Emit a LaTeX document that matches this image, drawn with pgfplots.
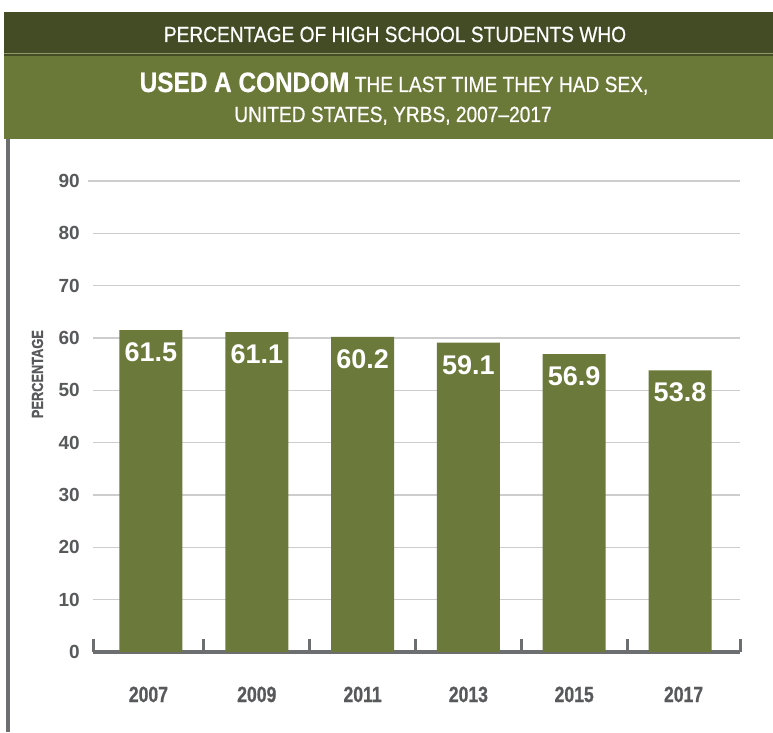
\documentclass[border=0pt]{standalone}
\usepackage{fontspec}
\setmainfont{Liberation Sans}
\newfontfamily\titlefont{Liberation Sans}[FakeStretch=0.87, FakeBold=0.6]
\newfontfamily\condfont{Liberation Sans}[FakeStretch=0.8, FakeBold=0.8]
\usepackage{pgfplots}
\pgfplotsset{compat=1.18}

\definecolor{darkolive}{HTML}{434C25}
\definecolor{olive}{HTML}{6A7838}
\definecolor{barolive}{HTML}{6B7A3A}
\definecolor{lineolive}{HTML}{8D9A63}
\definecolor{sidegrey}{HTML}{6D6E70}
\definecolor{axisgrey}{HTML}{6D6E70}
\definecolor{labelgrey}{HTML}{58595B}
\definecolor{gridgrey}{HTML}{CDCDCD}

\begin{document}
\begin{tikzpicture}[x=1pt,y=1pt]
\path[use as bounding box] (0,0) rectangle (773,732);
\fill[white] (0,0) rectangle (773,732);
% header bands
\fill[darkolive] (4,720) rectangle (773,676);
\fill[lineolive] (4,679) rectangle (773,677.6);
\fill[olive] (4,676) rectangle (773,593);
% grey bar down the left side
\fill[sidegrey] (6,0) rectangle (10,593);

\node[anchor=base, text=white, inner sep=0pt, font=\titlefont\fontsize{22}{26}\selectfont]
  at (395,690) {PERCENTAGE OF HIGH SCHOOL STUDENTS WHO};
\node[anchor=base, text=white, inner sep=0pt, font=\titlefont\fontsize{22}{26}\selectfont]
  at (394,640) {{\bfseries\fontsize{28}{30}\selectfont USED A CONDOM} THE LAST TIME THEY HAD SEX,};
\node[anchor=base, text=white, inner sep=0pt, font=\titlefont\fontsize{22}{26}\selectfont]
  at (393,610) {UNITED STATES, YRBS, 2007–2017};

\begin{axis}[
    scale only axis,
    width=647pt, height=471pt,
    at={(93pt,80pt)}, anchor=south west,
    xmin=-0.548, xmax=5.567,
    ymin=0, ymax=90,
    axis x line*=bottom, axis y line*=left,
    x axis line style={draw=axisgrey, line width=4pt, -},
    y axis line style={draw=none},
    xtick={-0.548,0.5,1.5,2.5,3.5,4.5,5.567},
    x tick label as interval,
    xticklabels={2007,2009,2011,2013,2015,2017},
    xtick style={draw=axisgrey, line width=3pt},
    major tick length=13pt,
    tick align=inside,
    ytick={0,10,...,90},
    ytick style={draw=none},
    ymajorgrids,
    grid style={draw=gridgrey, line width=1.3pt, shorten <=-5pt},
    /pgf/number format/assume math mode=true,
    xticklabel style={font=\condfont\bfseries\fontsize{22}{22}\selectfont, text=labelgrey,
        anchor=base, inner sep=0pt, yshift=-50pt},
    yticklabel style={font=\bfseries\fontsize{19}{19}\selectfont, text=labelgrey,
        anchor=east, inner sep=0pt, xshift=-13pt},
    ylabel={PERCENTAGE},
    ylabel style={at={(axis description cs:-0.0858,0.590)}, anchor=center,
        font=\condfont\bfseries\fontsize{16}{16}\selectfont, text=labelgrey},
    nodes near coords,
    point meta=explicit symbolic,
    every node near coord/.append style={font=\bfseries\fontsize{27}{27}\selectfont,
        text=white, inner sep=0pt, yshift=-32pt},
]
\addplot[ybar, fill=barolive, draw=none, bar width=63pt] coordinates {
    (0,61.5) [61.5]
    (1,61.1) [61.1]
    (2,60.2) [60.2]
    (3,59.1) [59.1]
    (4,56.9) [56.9]
    (5,53.8) [53.8]
};
\end{axis}
\end{tikzpicture}
\end{document}
